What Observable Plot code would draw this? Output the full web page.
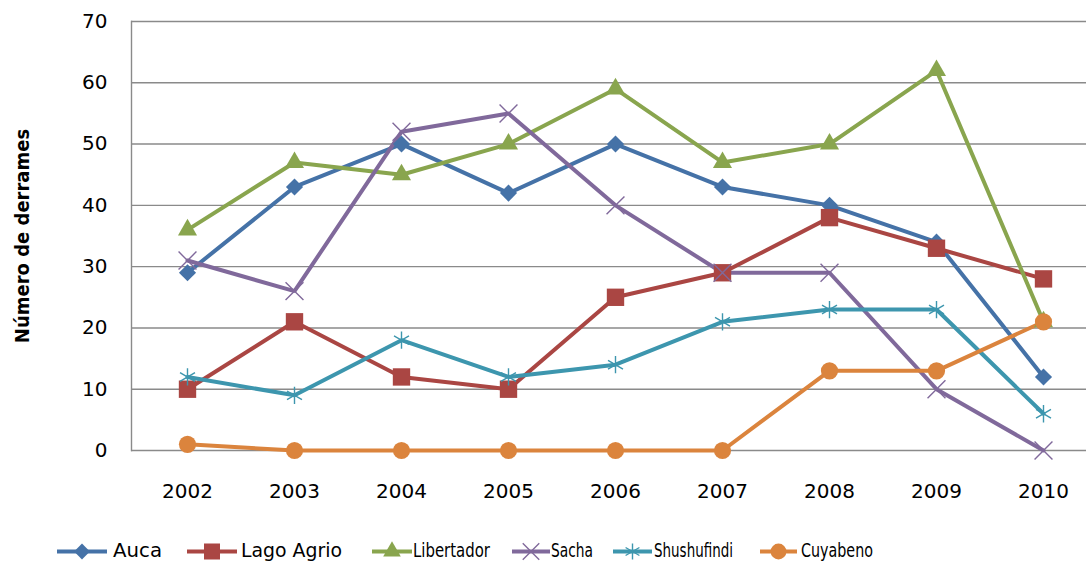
<!DOCTYPE html>
<html>
<head>
<meta charset="utf-8">
<script src="https://cdn.jsdelivr.net/npm/d3@7"></script>
<script src="https://cdn.jsdelivr.net/npm/@observablehq/plot@0.6"></script>
<style>
  html, body { margin: 0; padding: 0; background: #fff; overflow: hidden; width: 1086px; height: 562px; }
  #wrap { position: relative; width: 1086px; height: 562px; overflow: hidden; font-family: "DejaVu Sans", sans-serif; }
  #chart { position: absolute; left: 0; top: 0; }
  #legend { position: absolute; left: 0; top: 528px; }
  #chart svg { max-width: none !important; }
</style>
</head>
<body>
<div id="wrap"><div id="chart"></div><div id="legend"></div></div>
<script>
const years = ["2002","2003","2004","2005","2006","2007","2008","2009","2010"];
const seriesNames = ["Auca","Lago Agrio","Libertador","Sacha","Shushufindi","Cuyabeno"];
const auca        = [29, 43, 50, 42, 50, 43, 40, 34, 12];
const lagoAgrio   = [10, 21, 12, 10, 25, 29, 38, 33, 28];
const libertador  = [36, 47, 45, 50, 59, 47, 50, 62, 21];
const sacha       = [31, 26, 52, 55, 40, 29, 29, 10, 0];
const shushufindi = [12, 9, 18, 12, 14, 21, 23, 23, 6];
const cuyabeno    = [1, 0, 0, 0, 0, 0, 13, 13, 21];
const yTicks = [0, 10, 20, 30, 40, 50, 60, 70];
const yLabel = "Número de derrames";

// styles
const colors  = ["#4572A7","#AA4643","#89A54E","#80699B","#3D96AE","#DB843D"];
const symbols = ["diamond2","square","triangle","times","asterisk","circle"];
const radii   = [7.7, 9.8, 7.1, 8.2, 8.2, 8.6];
const filled  = [true, true, true, false, false, true];

const values = [auca, lagoAgrio, libertador, sacha, shushufindi, cuyabeno];
const rows = [];
seriesNames.forEach((s, i) => years.forEach((y, j) => rows.push({series: s, idx: i, year: y, value: values[i][j]})));

const marks = [
  Plot.gridY(yTicks, {stroke: "#8a8a8a", strokeOpacity: 1, strokeWidth: 1.4}),
  Plot.frame({anchor: "left", stroke: "#8a8a8a", strokeWidth: 1.4}),
  Plot.axisY(yTicks, {tickSize: 0, tickPadding: 24, fontSize: 20, label: yLabel, labelAnchor: "center", labelOffset: 117, labelArrow: "none"}),
  Plot.axisX({tickSize: 0, tickPadding: 33, fontSize: 20, label: null}),
  Plot.lineY(rows, {x: "year", y: "value", z: "series", stroke: "series", strokeWidth: 4, strokeLinejoin: "miter"})
];
seriesNames.forEach((s, i) => {
  const data = rows.filter(d => d.idx === i);
  marks.push(Plot.dot(data, {
    x: "year", y: "value",
    symbol: () => symbols[i],
    r: radii[i],
    fill: filled[i] ? colors[i] : "none",
    stroke: colors[i],
    strokeWidth: filled[i] ? 0 : 1.4
  }));
});

const chart = Plot.plot({
  width: 1099,
  height: 500,
  marginLeft: 131,
  marginRight: 0,
  marginTop: 21,
  marginBottom: 50,
  style: {fontFamily: "DejaVu Sans, sans-serif", fontSize: "20px", color: "#000", background: "#fff", overflow: "visible"},
  x: {type: "point", domain: years, padding: 0.5},
  y: {domain: [0, 70]},
  color: {domain: seriesNames, range: colors},
  symbol: {domain: symbols, range: symbols},
  marks
});
chart.style.maxWidth = "none";
chart.querySelectorAll("text").forEach(t => {
  if (t.textContent.includes("Número")) {
    t.textContent = yLabel;
    t.setAttribute("font-weight", "bold");
    t.setAttribute("font-size", "20");
    t.setAttribute("font-family", "DejaVu Sans Condensed, DejaVu Sans, sans-serif");
    t.style.fontStretch = "condensed";
  }
});
document.getElementById("chart").appendChild(chart);

// legend
const legendSwatch = [[57, 107], [187, 237], [372, 412], [512, 550], [613, 652], [760, 797]];
const legendTextX = [113, 241, 413, 551, 654, 801];
const legendTextW = [49, 101, 77, 42, 79, 72];
const symMap = {diamond2: d3.symbolDiamond2, square: d3.symbolSquare, triangle: d3.symbolTriangle, times: d3.symbolTimes, asterisk: d3.symbolAsterisk, circle: d3.symbolCircle};
const lsvg = d3.create("svg").attr("width", 1086).attr("height", 34)
  .style("font-family", "DejaVu Sans, sans-serif").style("font-size", "19px");
seriesNames.forEach((s, i) => {
  const [x0, x1] = legendSwatch[i];
  const g = lsvg.append("g");
  g.append("line").attr("x1", x0).attr("x2", x1).attr("y1", 23.5).attr("y2", 23.5).attr("stroke", colors[i]).attr("stroke-width", 4);
  g.append("path")
    .attr("transform", `translate(${(x0 + x1) / 2},23.5)`)
    .attr("d", d3.symbol(symMap[symbols[i]], Math.PI * radii[i] * radii[i] * 0.85)())
    .attr("fill", filled[i] ? colors[i] : "none")
    .attr("stroke", filled[i] ? "none" : colors[i])
    .attr("stroke-width", 1.4);
  g.append("text").attr("x", legendTextX[i]).attr("y", 29)
    .attr("textLength", legendTextW[i]).attr("lengthAdjust", "spacingAndGlyphs")
    .attr("fill", "#000").text(s);
});
document.getElementById("legend").appendChild(lsvg.node());
</script>
</body>
</html>
